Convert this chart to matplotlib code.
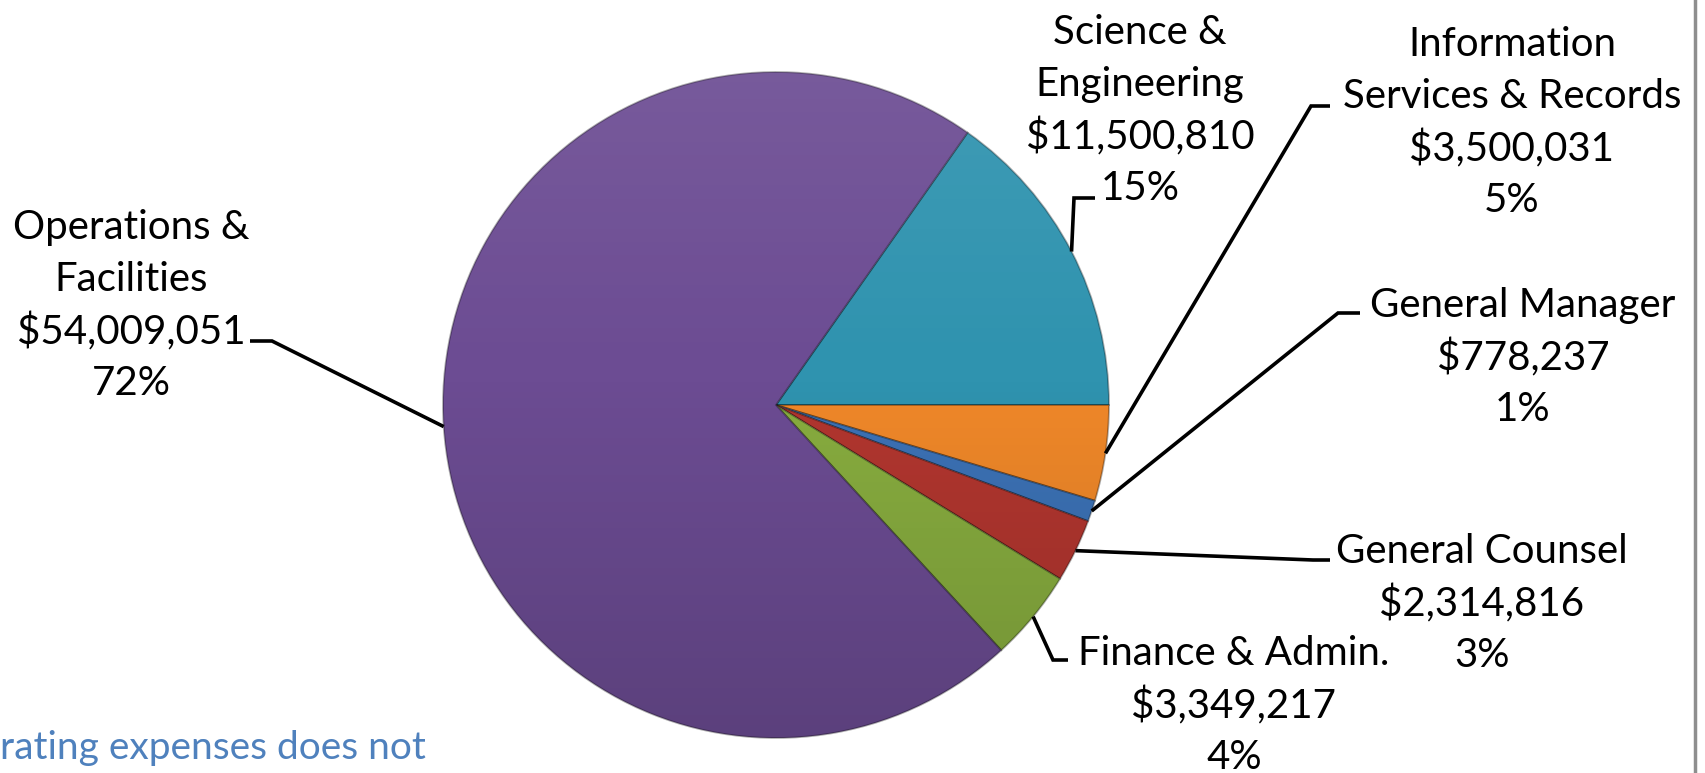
import numpy as np
import matplotlib.pyplot as plt
from matplotlib.patches import Circle

# department budgets, clockwise from the top-right slice
names = ['Science &\nEngineering', 'Information\nServices & Records', 'General Manager',
         'General Counsel', 'Finance & Admin.', 'Operations &\nFacilities']
values = [11500810, 3500031, 778237, 2314816, 3349217, 54009051]
colors = ['#2F93AF', '#F08829', '#3C72B6', '#B2362F', '#88AD3F', '#6C4C93']

# label layout in image pixels: text centre, elbow, end of the short horizontal
label_xy = [(1140, 107), (1512, 119), (1523, 354), (1482, 600), (1234, 702), (131, 302)]
elbows = [(1074, 198), (1311, 106), (1338, 313), (1313, 560), (1053, 660), (272, 341)]
ends = [(1095, 198), (1330, 106), (1360, 313), (1330, 560), (1068, 660), (250, 341)]

W, H = 1706, 773
cx, cy, r = 776, 405, 333

plt.rcParams['font.family'] = ['Lato', 'DejaVu Sans']

fig = plt.figure(figsize=(W / 100, H / 100), dpi=100)
ax = fig.add_axes([0, 0, 1, 1])

total = sum(values)
start = 360 * values[0] / total
wedges, _ = ax.pie(values, colors=colors, startangle=start, counterclock=False,
                   center=(cx, H - cy), radius=r,
                   wedgeprops=dict(edgecolor='#00000050', linewidth=1.3))

# soft top-light / bottom-dark shading over the whole pie
grad = np.zeros((200, 2, 4))
t = np.linspace(0, 1, 200)
grad[:, :, 0:3] = np.where(t[:, None, None] < 0.45, 1.0, 0.0)
grad[:, :, 3] = np.where(t < 0.45, (0.45 - t) * 0.18, (t - 0.45) * 0.28)[:, None]
im = ax.imshow(grad, extent=(cx - r, cx + r, H - cy - r, H - cy + r), origin='upper',
               aspect='auto', zorder=3)
im.set_clip_path(Circle((cx, H - cy), r, transform=ax.transData))

line_h = 52
for w, name, v, (lx, ly), (ex, ey), (fx, fy) in zip(wedges, names, values, label_xy, elbows, ends):
    mid = np.deg2rad((w.theta1 + w.theta2) / 2)
    px, py = cx + r * np.cos(mid), (H - cy) + r * np.sin(mid)
    ax.plot([px, ex, fx], [py, H - ey, H - fy], color='black', lw=2.6,
            solid_capstyle='butt', solid_joinstyle='miter', zorder=4)
    lines = name.split('\n') + ['${:,}'.format(v), '{:.0f}%'.format(100 * v / total)]
    y0 = ly - line_h * (len(lines) - 1) / 2
    for i, s in enumerate(lines):
        ax.text(lx, H - (y0 + i * line_h), s, ha='center', va='center_baseline',
                fontsize=29, color='black', zorder=5)

ax.text(426, H - 745, 'rating expenses does not', ha='right', va='center_baseline',
        fontsize=28, color='#4F81BD')

ax.plot([1695, 1695], [0, H], color='#8E8E8E', lw=2.5)

ax.set_xlim(0, W)
ax.set_ylim(0, H)
ax.set_aspect('equal')
ax.axis('off')

fig.savefig('out.png', dpi=100)
